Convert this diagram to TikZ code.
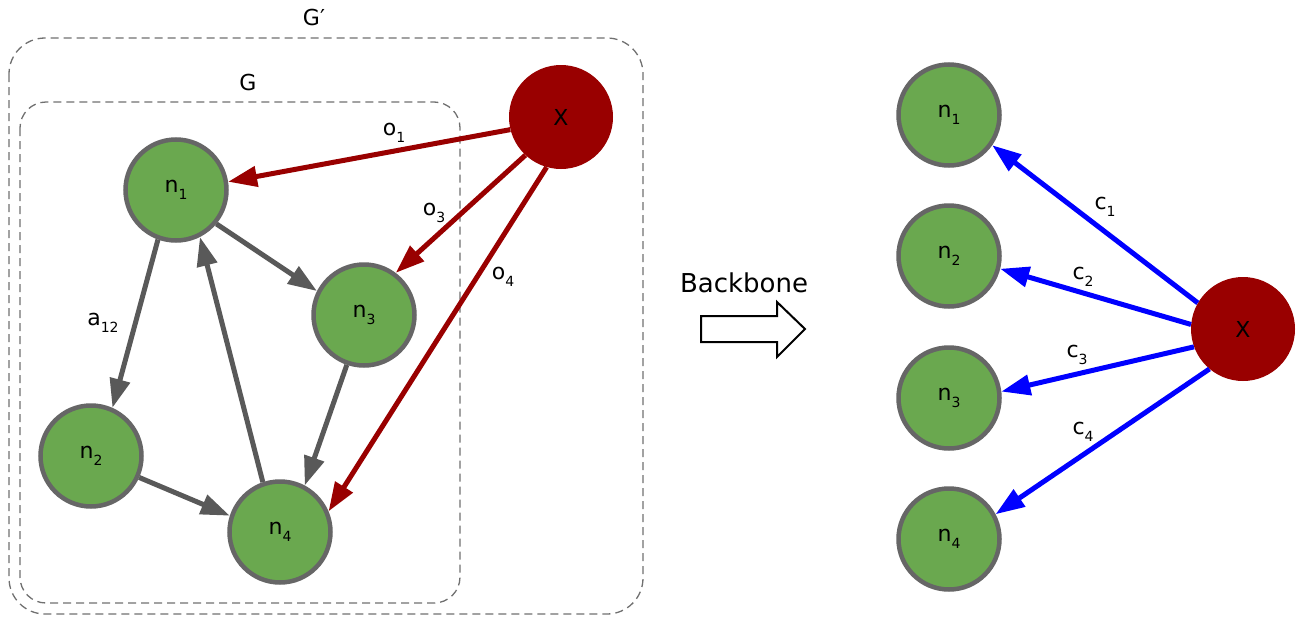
\documentclass[tikz,border=0pt]{standalone}
\usepackage{fontspec}
\setmainfont{DejaVu Sans}
\usetikzlibrary{arrows.meta}
\definecolor{nodegreen}{HTML}{6AA84F}
\definecolor{nodeborder}{HTML}{666666}
\definecolor{xred}{HTML}{990000}
\definecolor{edgegray}{HTML}{595959}
\definecolor{boxgray}{HTML}{707070}
\newcommand{\idx}[1]{\raisebox{-0.6ex}{\fontsize{14}{14}\selectfont #1}}
\begin{document}
\begin{tikzpicture}[x=1pt,y=-1pt,
  vert/.style={circle,draw=nodeborder,line width=4.5pt,fill=nodegreen,minimum size=101pt,inner sep=0pt,font=\fontsize{22}{22}\selectfont},
  feat/.style={circle,fill=xred,minimum size=104pt,inner sep=0pt,font=\fontsize{22}{22}\selectfont},
  gedge/.style={draw=edgegray,line width=5pt,-{Triangle[length=29pt,width=20pt]}},
  oedge/.style={draw=xred,line width=5pt,-{Triangle[length=29pt,width=20pt]}},
  cedge/.style={draw=blue,line width=5pt,-{Triangle[length=29pt,width=20pt]}},
  lbl/.style={font=\fontsize{22}{22}\selectfont},
  frame/.style={draw=boxgray,line width=1.3pt,dash pattern=on 8pt off 5pt}]
\useasboundingbox (0,0) rectangle (1304,616);
% graph G inside G'
\draw [frame,rounded corners=36pt] (9,38) rectangle (643,614);
\draw [frame,rounded corners=26pt] (20,102) rectangle (460,603);
\node [lbl] (gp) at (314,17) {G′};
\node [lbl] (g) at (248,82) {G};
\node [vert] (n1) at (176,190) {n\idx{1}};
\node [vert] (n2) at (91,456) {n\idx{2}};
\node [vert] (n3) at (364,315) {n\idx{3}};
\node [vert] (n4) at (280,532) {n\idx{4}};
\node [feat] (x) at (561,117) {X};
\draw [gedge] (n1.250) -- (n2.66);
\draw [gedge] (n1.320) -- (n3.153);
\draw [gedge] (n2.336) -- (n4.162);
\draw [gedge] (n3.251) -- (n4.62);
\draw [gedge] (n4.109) -- (n1.297);
\draw [oedge] (x.194) -- (n1.9);
\draw [oedge] (x.227) -- (n3.53);
\draw [oedge] (x.254) -- (n4.23);
\node [lbl] (a12) at (103,323) {a\idx{12}};
\node [lbl] (o1) at (394,133) {o\idx{1}};
\node [lbl] (o3) at (434,213) {o\idx{3}};
\node [lbl] (o4) at (503,277) {o\idx{4}};
% backbone
\node [font=\fontsize{26}{26}\selectfont] (bb) at (744,283) {Backbone};
\draw [line width=2pt,line join=miter] (701,316) -- (777,316) -- (777,302) -- (805,329) -- (777,357) -- (777,342) -- (701,342) -- cycle;
% output side
\node [vert] (m1) at (949,115) {n\idx{1}};
\node [vert] (m2) at (949,256) {n\idx{2}};
\node [vert] (m3) at (949,398) {n\idx{3}};
\node [vert] (m4) at (949,539) {n\idx{4}};
\node [feat] (y) at (1243,329) {X};
\draw [cedge] (y.150) -- (m1.325);
\draw [cedge] (y.175) -- (m2.-14);
\draw [cedge] (y.200) -- (m3.7);
\draw [cedge] (y.230) -- (m4.28);
\node [lbl] (c1) at (1105,207) {c\idx{1}};
\node [lbl] (c2) at (1083,277) {c\idx{2}};
\node [lbl] (c3) at (1077,355) {c\idx{3}};
\node [lbl] (c4) at (1083,432) {c\idx{4}};
\end{tikzpicture}
\end{document}
